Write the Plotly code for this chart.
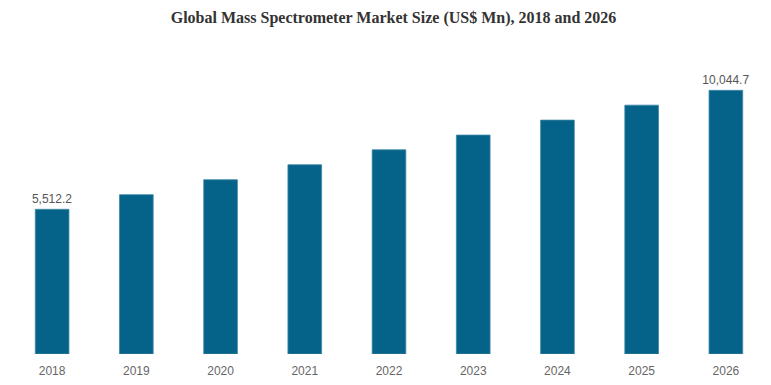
import plotly.graph_objects as go

years = ["2018", "2019", "2020", "2021", "2022", "2023", "2024", "2025", "2026"]
market_size = [5512.2, 6070, 6640, 7210, 7780, 8340, 8910, 9480, 10044.7]
labels = ["5,512.2", "", "", "", "", "", "", "", "10,044.7"]

fig = go.Figure(
    go.Bar(
        x=years,
        y=market_size,
        text=labels,
        textposition="outside",
        constraintext="none",
        cliponaxis=False,
        textfont=dict(family="Liberation Sans, Arial, sans-serif", size=12, color="#555555"),
        marker=dict(color="#05638A", line=dict(color="#3F88A6", width=0.8)),
        hoverinfo="x+y",
    )
)

fig.update_layout(
    width=771,
    height=385,
    paper_bgcolor="white",
    plot_bgcolor="white",
    margin=dict(l=2, r=11, t=52, b=39),
    bargap=0.6,
    showlegend=False,
    title=dict(
        text="<b>Global Mass Spectrometer Market Size (US$ Mn), 2018 and 2026</b>",
        x=0.5,
        xanchor="center",
        xref="container",
        y=1 - 9 / 385,
        yanchor="middle",
        font=dict(family="Liberation Serif, Times New Roman, serif", size=16, color="#333333"),
    ),
    xaxis=dict(
        type="category",
        showgrid=False,
        showline=False,
        zeroline=False,
        ticks="",
        ticklabelstandoff=8,
        tickfont=dict(family="Liberation Sans, Arial, sans-serif", size=12, color="#666666"),
    ),
    yaxis=dict(
        range=[0, 11200],
        visible=False,
        showgrid=False,
        zeroline=False,
    ),
)

fig.write_html("out.html")
